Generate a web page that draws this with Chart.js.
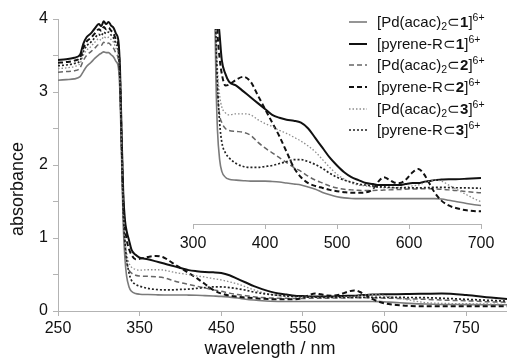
<!DOCTYPE html>
<html><head><meta charset="utf-8">
<script src="https://cdn.jsdelivr.net/npm/chart.js@4/dist/chart.umd.min.js"></script>
<style>
html,body{margin:0;padding:0;background:#fff;}
#wrap{position:relative;width:507px;height:359px;overflow:hidden;font-family:"Liberation Sans",Arial,sans-serif;color:#111;}
#main{position:absolute;left:0;top:0;}
#inset{position:absolute;left:140px;top:0;}
#legend{position:absolute;left:349px;top:11px;}
.row{display:flex;align-items:center;height:21.7px;font-size:15px;white-space:nowrap;}
.row svg{width:18px;height:6px;margin-right:10px;flex:none;}
.row sub{font-size:10.5px;line-height:0;vertical-align:-3px;}
.row sup{font-size:10.5px;line-height:0;vertical-align:6px;}
</style></head>
<body>
<div id="wrap">
<canvas id="main" width="507" height="359"></canvas>
<canvas id="inset" width="367" height="270"></canvas>
<div id="legend"></div>
</div>
<script>
// ---- data ----
const wavelengths = [250,260,270,277,281,285,290,295,300,303,306,309,312,315,318,321,324,326,
  328,330,332,334,337,340,345,350,
  360,370,380,390,400,410,420,430,440,450,460,470,480,490,500,510,520,530,540,550,
  558,565,572,580,587,595,605,613,620,628,635,645,655,665,680,700,
  720,750,780,800];

const pdAcac1 = [3.16,3.17,3.18,3.21,3.28,3.35,3.40,3.46,3.51,3.53,3.55,3.54,3.54,3.51,3.48,3.42,3.33,2.95,
  2.05,1.15,0.72,0.48,0.33,0.27,0.24,0.23,
  0.225,0.222,0.22,0.22,0.22,0.218,0.215,0.21,0.205,0.20,0.19,0.178,0.162,0.15,0.14,0.134,0.131,0.13,0.13,0.13,
  0.13,0.13,0.13,0.13,0.13,0.13,0.13,0.13,0.13,0.13,0.13,0.128,0.122,0.115,0.105,0.095,
  0.09,0.088,0.086,0.085];

const pyrene1 = [3.44,3.45,3.47,3.51,3.66,3.75,3.80,3.87,3.93,3.90,3.97,3.93,3.96,3.91,3.88,3.80,3.70,3.30,
  2.40,1.60,1.25,1.10,0.97,0.84,0.77,0.73,
  0.71,0.68,0.65,0.62,0.59,0.56,0.545,0.535,0.53,0.52,0.49,0.44,0.39,0.34,0.30,0.265,0.24,0.225,0.21,0.205,
  0.20,0.20,0.20,0.20,0.20,0.205,0.21,0.21,0.215,0.22,0.225,0.228,0.23,0.23,0.232,0.236,
  0.24,0.22,0.185,0.165];

const pdAcac2 = [3.27,3.28,3.29,3.33,3.43,3.50,3.55,3.60,3.65,3.64,3.68,3.66,3.67,3.64,3.60,3.53,3.43,3.05,
  2.15,1.30,0.90,0.68,0.56,0.52,0.49,0.48,
  0.475,0.47,0.455,0.42,0.39,0.365,0.34,0.315,0.29,0.27,0.245,0.225,0.21,0.195,0.185,0.178,0.175,0.173,0.172,0.172,
  0.173,0.174,0.175,0.176,0.177,0.178,0.18,0.18,0.181,0.181,0.18,0.178,0.175,0.172,0.166,0.16,
  0.15,0.14,0.125,0.12];

const pyrene2 = [3.40,3.41,3.43,3.47,3.60,3.69,3.74,3.80,3.86,3.84,3.89,3.86,3.88,3.84,3.80,3.72,3.62,3.20,
  2.30,1.50,1.15,0.98,0.85,0.77,0.71,0.715,
  0.74,0.755,0.73,0.66,0.59,0.52,0.45,0.37,0.29,0.24,0.21,0.195,0.185,0.175,0.168,0.163,0.16,0.16,0.162,0.18,
  0.22,0.24,0.228,0.212,0.21,0.225,0.265,0.282,0.26,0.21,0.165,0.12,0.095,0.082,0.07,0.065,
  0.065,0.065,0.065,0.065];

const pdAcac3 = [3.32,3.33,3.35,3.39,3.50,3.57,3.62,3.68,3.73,3.71,3.76,3.74,3.75,3.72,3.68,3.60,3.50,3.10,
  2.20,1.40,1.00,0.80,0.66,0.60,0.57,0.56,
  0.565,0.565,0.56,0.535,0.515,0.50,0.48,0.465,0.445,0.425,0.40,0.37,0.33,0.29,0.255,0.23,0.21,0.20,0.195,0.19,
  0.188,0.186,0.185,0.186,0.188,0.19,0.195,0.20,0.21,0.22,0.225,0.22,0.20,0.18,0.15,0.115,
  0.105,0.10,0.095,0.09];

const pyrene3 = [3.36,3.37,3.39,3.43,3.55,3.63,3.68,3.74,3.79,3.77,3.82,3.80,3.82,3.78,3.74,3.66,3.56,3.15,
  2.20,1.35,0.95,0.72,0.52,0.42,0.365,0.34,
  0.31,0.295,0.29,0.29,0.295,0.30,0.31,0.32,0.33,0.33,0.32,0.305,0.285,0.26,0.24,0.225,0.215,0.205,0.20,0.195,
  0.19,0.19,0.188,0.186,0.185,0.185,0.185,0.185,0.186,0.187,0.188,0.188,0.187,0.186,0.185,0.183,
  0.175,0.16,0.145,0.135];

const seriesLabels = ['[Pd(acac)<sub>2</sub>⊂<b>1</b>]<sup>6+</sup>','[pyrene-R⊂<b>1</b>]<sup>6+</sup>',
  '[Pd(acac)<sub>2</sub>⊂<b>2</b>]<sup>6+</sup>','[pyrene-R⊂<b>2</b>]<sup>6+</sup>',
  '[Pd(acac)<sub>2</sub>⊂<b>3</b>]<sup>6+</sup>','[pyrene-R⊂<b>3</b>]<sup>6+</sup>'];
const seriesValues = [pdAcac1, pyrene1, pdAcac2, pyrene2, pdAcac3, pyrene3];

const mainXTicks = [250,350,450,550,650,750];
const mainXTickLabels = ['250','350','450','550','600','750'];
const mainYTicks = [0,0.5,1,1.5,2,2.5,3,3.5,4];
const mainYTickLabels = ['0','','1','','2','','3','','4'];
const insetXTicks = [300,400,500,600,700];
const insetXTickLabels = ['300','400','500','600','700'];
const xTitle = 'wavelength / nm';
const yTitle = 'absorbance';

// ---- styles ----
const styles = [
  {color:'#7b7b7b', width:1.6, dash:[]},
  {color:'#111111', width:2.0, dash:[]},
  {color:'#666666', width:1.5, dash:[5,3]},
  {color:'#111111', width:2.0, dash:[5,3]},
  {color:'#8c8c8c', width:1.3, dash:[1.5,2]},
  {color:'#222222', width:1.7, dash:[2,2]}
];
const FONT = '"Liberation Sans", Arial, sans-serif';
const AXIS = '#b3b3b3';

function makeDatasets(){
  return seriesValues.map((vals,k)=>({
    label:'s'+k,
    data: wavelengths.map((w,i)=>({x:w,y:vals[i]})),
    borderColor:styles[k].color, borderWidth:styles[k].width, borderDash:styles[k].dash,
    pointRadius:0, fill:false, cubicInterpolationMode:'monotone'
  })).reverse();
}

const titlePlugin = {
  id:'axisTitles',
  afterDraw(chart){
    const ctx = chart.ctx;
    ctx.save();
    ctx.fillStyle = '#111';
    ctx.font = '18px ' + FONT;
    ctx.textAlign = 'center';
    ctx.textBaseline = 'alphabetic';
    ctx.fillText(xTitle, 270, 354);
    ctx.translate(23, 189);
    ctx.rotate(-Math.PI/2);
    ctx.fillText(yTitle, 0, 0);
    ctx.restore();
  }
};

new Chart(document.getElementById('main'), {
  type:'line',
  data:{datasets:makeDatasets()},
  options:{
    responsive:false, animation:false, devicePixelRatio:1,
    layout:{padding:{left:0,right:0,top:19,bottom:0}},
    plugins:{legend:{display:false}, tooltip:{enabled:false}},
    scales:{
      x:{type:'linear', min:250, max:800,
        afterBuildTicks:s=>{s.ticks = mainXTicks.map(v=>({value:v}));},
        afterFit:s=>{s.height = 48;},
        ticks:{callback:(v)=>{const i=mainXTicks.indexOf(v);return i>=0?mainXTickLabels[i]:'';}, font:{size:16,family:FONT}, color:'#111', padding:3, maxRotation:0, autoSkip:false},
        grid:{drawOnChartArea:false, tickLength:5, color:AXIS}, border:{color:AXIS}},
      y:{type:'linear', min:0, max:4,
        afterBuildTicks:s=>{s.ticks = mainYTicks.map(v=>({value:v}));},
        afterFit:s=>{s.width = 58;},
        ticks:{callback:(v)=>{const i=mainYTicks.indexOf(v);return i>=0?mainYTickLabels[i]:'';}, font:{size:16,family:FONT}, color:'#111', padding:5, autoSkip:false},
        grid:{drawOnChartArea:false, tickLength:5, color:AXIS}, border:{color:AXIS}}
    }
  },
  plugins:[titlePlugin]
});

new Chart(document.getElementById('inset'), {
  type:'line',
  data:{datasets:makeDatasets()},
  options:{
    responsive:false, animation:false, devicePixelRatio:1,
    layout:{padding:{left:53,right:26,top:29,bottom:0}},
    plugins:{legend:{display:false}, tooltip:{enabled:false}},
    scales:{
      x:{type:'linear', min:300, max:700,
        afterBuildTicks:s=>{s.ticks = insetXTicks.map(v=>({value:v}));},
        afterFit:s=>{s.height = 46;},
        ticks:{callback:(v)=>{const i=insetXTicks.indexOf(v);return i>=0?insetXTickLabels[i]:'';}, font:{size:16,family:FONT}, color:'#111', padding:5, maxRotation:0, autoSkip:false},
        grid:{drawOnChartArea:false, tickLength:5, color:AXIS}, border:{color:AXIS}},
      y:{type:'linear', min:0, max:1, display:false}
    }
  }
});

// legend
const leg = document.getElementById('legend');
seriesLabels.forEach((lab,k)=>{
  const st = styles[k];
  const row = document.createElement('div');
  row.className = 'row';
  row.innerHTML = '<svg viewBox="0 0 18 6"><line x1="0" y1="3" x2="18" y2="3" stroke="'+st.color+'" stroke-width="'+st.width+'" stroke-dasharray="'+(st.dash.length?st.dash.join(','):'none')+'"/></svg><span>'+lab+'</span>';
  leg.appendChild(row);
});
</script>
</body></html>
